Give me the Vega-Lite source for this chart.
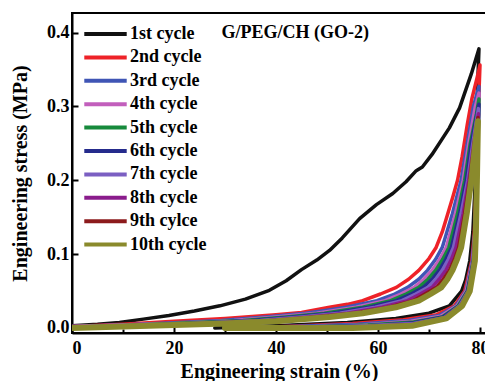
{
"$schema": "https://vega.github.io/schema/vega-lite/v6.json",
"width": 414, "height": 320,
"autosize": {"type": "none"},
"padding": {"left": 72, "top": 13, "right": 0, "bottom": 48},
"background": "white",
"config": {"view": {"stroke": "black", "strokeWidth": 2}, "font": "Liberation Serif"},
"layer": [
{
"data": {"values": [
{"c":"1st cycle","x":0,"y":0.003},{"c":"1st cycle","x":5,"y":0.005},{"c":"1st cycle","x":9.3,"y":0.0075},{"c":"1st cycle","x":14,"y":0.012},{"c":"1st cycle","x":19,"y":0.017},{"c":"1st cycle","x":24,"y":0.023},{"c":"1st cycle","x":29,"y":0.03},{"c":"1st cycle","x":34,"y":0.039},{"c":"1st cycle","x":38.7,"y":0.051},{"c":"1st cycle","x":42,"y":0.064},{"c":"1st cycle","x":45,"y":0.079},{"c":"1st cycle","x":48,"y":0.092},{"c":"1st cycle","x":50.5,"y":0.105},{"c":"1st cycle","x":53,"y":0.122},{"c":"1st cycle","x":56.4,"y":0.148},{"c":"1st cycle","x":59.7,"y":0.167},{"c":"1st cycle","x":62.9,"y":0.182},{"c":"1st cycle","x":65.5,"y":0.198},{"c":"1st cycle","x":67.5,"y":0.213},{"c":"1st cycle","x":68.7,"y":0.218},{"c":"1st cycle","x":70.6,"y":0.235},{"c":"1st cycle","x":74,"y":0.271},{"c":"1st cycle","x":76,"y":0.298},{"c":"1st cycle","x":78.3,"y":0.344},{"c":"1st cycle","x":79.8,"y":0.378},
{"c":"1st cycle","x":79.4,"y":0.3},{"c":"1st cycle","x":79.1,"y":0.2},{"c":"1st cycle","x":78.6,"y":0.13},{"c":"1st cycle","x":78,"y":0.091},{"c":"1st cycle","x":77.2,"y":0.065},{"c":"1st cycle","x":76.4,"y":0.05},{"c":"1st cycle","x":74,"y":0.03},{"c":"1st cycle","x":70,"y":0.02},{"c":"1st cycle","x":63.5,"y":0.013},{"c":"1st cycle","x":54,"y":0.0075},{"c":"1st cycle","x":40,"y":0.003},{"c":"1st cycle","x":28,"y":0.0},

{"c":"2nd cycle","x":0,"y":0.002},{"c":"2nd cycle","x":10,"y":0.005},{"c":"2nd cycle","x":20,"y":0.009},{"c":"2nd cycle","x":30,"y":0.013},{"c":"2nd cycle","x":40,"y":0.018},{"c":"2nd cycle","x":45,"y":0.021},{"c":"2nd cycle","x":50.5,"y":0.028},{"c":"2nd cycle","x":54,"y":0.032},{"c":"2nd cycle","x":57,"y":0.037},{"c":"2nd cycle","x":60.5,"y":0.046},{"c":"2nd cycle","x":63.6,"y":0.055},{"c":"2nd cycle","x":66,"y":0.066},{"c":"2nd cycle","x":68,"y":0.078},{"c":"2nd cycle","x":70,"y":0.094},{"c":"2nd cycle","x":71.4,"y":0.109},{"c":"2nd cycle","x":72.6,"y":0.13},{"c":"2nd cycle","x":73.7,"y":0.155},{"c":"2nd cycle","x":74.7,"y":0.178},{"c":"2nd cycle","x":75.6,"y":0.2},{"c":"2nd cycle","x":76.5,"y":0.232},{"c":"2nd cycle","x":77.5,"y":0.275},{"c":"2nd cycle","x":78.4,"y":0.31},{"c":"2nd cycle","x":79.4,"y":0.338},{"c":"2nd cycle","x":80,"y":0.356},
{"c":"2nd cycle","x":79.6,"y":0.28},{"c":"2nd cycle","x":79.3,"y":0.2},{"c":"2nd cycle","x":78.9,"y":0.13},{"c":"2nd cycle","x":78.4,"y":0.091},{"c":"2nd cycle","x":77,"y":0.05},{"c":"2nd cycle","x":75,"y":0.03},{"c":"2nd cycle","x":71.5,"y":0.018},{"c":"2nd cycle","x":65,"y":0.011},{"c":"2nd cycle","x":55,"y":0.006},{"c":"2nd cycle","x":42,"y":0.002},{"c":"2nd cycle","x":30,"y":0.0},

{"c":"3rd cycle","x":0,"y":0.002},{"c":"3rd cycle","x":10,"y":0.004},{"c":"3rd cycle","x":20,"y":0.007},{"c":"3rd cycle","x":29.3,"y":0.01},{"c":"3rd cycle","x":38,"y":0.015},{"c":"3rd cycle","x":45.8,"y":0.02},{"c":"3rd cycle","x":50,"y":0.024},{"c":"3rd cycle","x":53.8,"y":0.028},{"c":"3rd cycle","x":59.8,"y":0.037},{"c":"3rd cycle","x":63,"y":0.045},{"c":"3rd cycle","x":65.8,"y":0.055},{"c":"3rd cycle","x":68,"y":0.066},{"c":"3rd cycle","x":69.7,"y":0.078},{"c":"3rd cycle","x":71.3,"y":0.093},{"c":"3rd cycle","x":72.6,"y":0.109},{"c":"3rd cycle","x":74.6,"y":0.155},{"c":"3rd cycle","x":76.3,"y":0.2},{"c":"3rd cycle","x":77.5,"y":0.25},{"c":"3rd cycle","x":78.7,"y":0.3},{"c":"3rd cycle","x":79.8,"y":0.327},
{"c":"3rd cycle","x":79.6,"y":0.26},{"c":"3rd cycle","x":79.4,"y":0.2},{"c":"3rd cycle","x":79,"y":0.13},{"c":"3rd cycle","x":78.5,"y":0.091},{"c":"3rd cycle","x":77.2,"y":0.05},{"c":"3rd cycle","x":75.3,"y":0.03},{"c":"3rd cycle","x":72,"y":0.017},{"c":"3rd cycle","x":66,"y":0.01},{"c":"3rd cycle","x":56,"y":0.005},{"c":"3rd cycle","x":43,"y":0.002},{"c":"3rd cycle","x":31,"y":0.0},

{"c":"4th cycle","x":0,"y":0.002},{"c":"4th cycle","x":10,"y":0.004},{"c":"4th cycle","x":20,"y":0.006},{"c":"4th cycle","x":31.8,"y":0.01},{"c":"4th cycle","x":40,"y":0.015},{"c":"4th cycle","x":48,"y":0.02},{"c":"4th cycle","x":55.7,"y":0.028},{"c":"4th cycle","x":61.4,"y":0.037},{"c":"4th cycle","x":64.5,"y":0.046},{"c":"4th cycle","x":67.1,"y":0.055},{"c":"4th cycle","x":69,"y":0.066},{"c":"4th cycle","x":70.6,"y":0.078},{"c":"4th cycle","x":72.1,"y":0.093},{"c":"4th cycle","x":73.4,"y":0.109},{"c":"4th cycle","x":75.2,"y":0.155},{"c":"4th cycle","x":76.7,"y":0.2},{"c":"4th cycle","x":77.8,"y":0.25},{"c":"4th cycle","x":79.1,"y":0.3},{"c":"4th cycle","x":79.8,"y":0.318},
{"c":"4th cycle","x":79.6,"y":0.25},{"c":"4th cycle","x":79.4,"y":0.2},{"c":"4th cycle","x":79,"y":0.13},{"c":"4th cycle","x":78.6,"y":0.091},{"c":"4th cycle","x":77.3,"y":0.05},{"c":"4th cycle","x":75.5,"y":0.03},{"c":"4th cycle","x":72.3,"y":0.016},{"c":"4th cycle","x":66.5,"y":0.009},{"c":"4th cycle","x":57,"y":0.004},{"c":"4th cycle","x":44,"y":0.001},{"c":"4th cycle","x":32,"y":0.0},

{"c":"5th cycle","x":0,"y":0.001},{"c":"5th cycle","x":10,"y":0.003},{"c":"5th cycle","x":20,"y":0.006},{"c":"5th cycle","x":33.5,"y":0.01},{"c":"5th cycle","x":42,"y":0.015},{"c":"5th cycle","x":49.5,"y":0.02},{"c":"5th cycle","x":57,"y":0.028},{"c":"5th cycle","x":62.5,"y":0.037},{"c":"5th cycle","x":65.5,"y":0.046},{"c":"5th cycle","x":68,"y":0.055},{"c":"5th cycle","x":69.8,"y":0.066},{"c":"5th cycle","x":71.3,"y":0.078},{"c":"5th cycle","x":72.7,"y":0.093},{"c":"5th cycle","x":73.9,"y":0.109},{"c":"5th cycle","x":75.6,"y":0.155},{"c":"5th cycle","x":77,"y":0.2},{"c":"5th cycle","x":78.1,"y":0.25},{"c":"5th cycle","x":79.3,"y":0.29},{"c":"5th cycle","x":79.8,"y":0.31},
{"c":"5th cycle","x":79.6,"y":0.25},{"c":"5th cycle","x":79.4,"y":0.2},{"c":"5th cycle","x":79.1,"y":0.13},{"c":"5th cycle","x":78.7,"y":0.091},{"c":"5th cycle","x":77.5,"y":0.05},{"c":"5th cycle","x":75.7,"y":0.03},{"c":"5th cycle","x":72.6,"y":0.015},{"c":"5th cycle","x":67,"y":0.008},{"c":"5th cycle","x":58,"y":0.004},{"c":"5th cycle","x":45,"y":0.001},{"c":"5th cycle","x":33,"y":0.0},

{"c":"6th cycle","x":0,"y":0.001},{"c":"6th cycle","x":10,"y":0.003},{"c":"6th cycle","x":20,"y":0.005},{"c":"6th cycle","x":35.2,"y":0.01},{"c":"6th cycle","x":43.5,"y":0.015},{"c":"6th cycle","x":51,"y":0.02},{"c":"6th cycle","x":58.3,"y":0.028},{"c":"6th cycle","x":63.6,"y":0.037},{"c":"6th cycle","x":66.5,"y":0.046},{"c":"6th cycle","x":68.9,"y":0.055},{"c":"6th cycle","x":70.6,"y":0.066},{"c":"6th cycle","x":72,"y":0.078},{"c":"6th cycle","x":73.3,"y":0.093},{"c":"6th cycle","x":74.4,"y":0.109},{"c":"6th cycle","x":76,"y":0.155},{"c":"6th cycle","x":77.3,"y":0.2},{"c":"6th cycle","x":78.3,"y":0.25},{"c":"6th cycle","x":79.8,"y":0.303},
{"c":"6th cycle","x":79.6,"y":0.25},{"c":"6th cycle","x":79.4,"y":0.2},{"c":"6th cycle","x":79.1,"y":0.13},{"c":"6th cycle","x":78.7,"y":0.091},{"c":"6th cycle","x":77.6,"y":0.05},{"c":"6th cycle","x":75.9,"y":0.03},{"c":"6th cycle","x":72.8,"y":0.015},{"c":"6th cycle","x":67,"y":0.007},{"c":"6th cycle","x":58,"y":0.003},{"c":"6th cycle","x":45,"y":0.001},{"c":"6th cycle","x":33,"y":0.0},

{"c":"7th cycle","x":0,"y":0.001},{"c":"7th cycle","x":10,"y":0.003},{"c":"7th cycle","x":20,"y":0.005},{"c":"7th cycle","x":36.9,"y":0.01},{"c":"7th cycle","x":45,"y":0.015},{"c":"7th cycle","x":52.5,"y":0.02},{"c":"7th cycle","x":59.5,"y":0.028},{"c":"7th cycle","x":64.7,"y":0.037},{"c":"7th cycle","x":67.4,"y":0.046},{"c":"7th cycle","x":69.8,"y":0.055},{"c":"7th cycle","x":71.3,"y":0.066},{"c":"7th cycle","x":72.6,"y":0.078},{"c":"7th cycle","x":73.8,"y":0.093},{"c":"7th cycle","x":74.8,"y":0.109},{"c":"7th cycle","x":76.3,"y":0.155},{"c":"7th cycle","x":77.6,"y":0.2},{"c":"7th cycle","x":78.6,"y":0.25},{"c":"7th cycle","x":79.7,"y":0.297},
{"c":"7th cycle","x":79.5,"y":0.25},{"c":"7th cycle","x":79.3,"y":0.2},{"c":"7th cycle","x":79.1,"y":0.13},{"c":"7th cycle","x":78.8,"y":0.091},{"c":"7th cycle","x":77.7,"y":0.05},{"c":"7th cycle","x":76,"y":0.03},{"c":"7th cycle","x":73,"y":0.014},{"c":"7th cycle","x":67,"y":0.006},{"c":"7th cycle","x":58,"y":0.003},{"c":"7th cycle","x":45,"y":0.0005},{"c":"7th cycle","x":34,"y":0.0},

{"c":"8th cycle","x":0,"y":0.001},{"c":"8th cycle","x":10,"y":0.002},{"c":"8th cycle","x":20,"y":0.004},{"c":"8th cycle","x":38.6,"y":0.01},{"c":"8th cycle","x":46.5,"y":0.015},{"c":"8th cycle","x":54,"y":0.02},{"c":"8th cycle","x":60.8,"y":0.028},{"c":"8th cycle","x":65.8,"y":0.037},{"c":"8th cycle","x":68.3,"y":0.046},{"c":"8th cycle","x":70.6,"y":0.055},{"c":"8th cycle","x":72,"y":0.066},{"c":"8th cycle","x":73.3,"y":0.078},{"c":"8th cycle","x":74.4,"y":0.093},{"c":"8th cycle","x":75.3,"y":0.109},{"c":"8th cycle","x":76.7,"y":0.155},{"c":"8th cycle","x":77.8,"y":0.2},{"c":"8th cycle","x":78.8,"y":0.25},{"c":"8th cycle","x":79.7,"y":0.29},
{"c":"8th cycle","x":79.5,"y":0.24},{"c":"8th cycle","x":79.3,"y":0.2},{"c":"8th cycle","x":79.1,"y":0.13},{"c":"8th cycle","x":78.8,"y":0.091},{"c":"8th cycle","x":77.8,"y":0.05},{"c":"8th cycle","x":76.2,"y":0.03},{"c":"8th cycle","x":73.1,"y":0.014},{"c":"8th cycle","x":67,"y":0.005},{"c":"8th cycle","x":58,"y":0.002},{"c":"8th cycle","x":45,"y":0.0},{"c":"8th cycle","x":35,"y":0.0},

{"c":"9th cylce","x":0,"y":0.0005},{"c":"9th cylce","x":10,"y":0.002},{"c":"9th cylce","x":20,"y":0.004},{"c":"9th cylce","x":40.3,"y":0.01},{"c":"9th cylce","x":48,"y":0.015},{"c":"9th cylce","x":55.5,"y":0.02},{"c":"9th cylce","x":62.2,"y":0.028},{"c":"9th cylce","x":66.9,"y":0.037},{"c":"9th cylce","x":69.2,"y":0.046},{"c":"9th cylce","x":71.5,"y":0.055},{"c":"9th cylce","x":72.8,"y":0.066},{"c":"9th cylce","x":74,"y":0.078},{"c":"9th cylce","x":75,"y":0.093},{"c":"9th cylce","x":75.8,"y":0.109},{"c":"9th cylce","x":77,"y":0.155},{"c":"9th cylce","x":78,"y":0.2},{"c":"9th cylce","x":78.9,"y":0.25},{"c":"9th cylce","x":79.6,"y":0.285},
{"c":"9th cylce","x":79.5,"y":0.24},{"c":"9th cylce","x":79.4,"y":0.2},{"c":"9th cylce","x":79.1,"y":0.13},{"c":"9th cylce","x":78.9,"y":0.091},{"c":"9th cylce","x":77.9,"y":0.05},{"c":"9th cylce","x":76.4,"y":0.03},{"c":"9th cylce","x":73.3,"y":0.013},{"c":"9th cylce","x":67,"y":0.004},{"c":"9th cylce","x":56,"y":0.001},{"c":"9th cylce","x":45,"y":0.0},{"c":"9th cylce","x":35,"y":0.0},

{"c":"10th cycle","x":0,"y":0.0},{"c":"10th cycle","x":10,"y":0.002},{"c":"10th cycle","x":20,"y":0.004},{"c":"10th cycle","x":30,"y":0.006},{"c":"10th cycle","x":40,"y":0.009},{"c":"10th cycle","x":50.5,"y":0.015},{"c":"10th cycle","x":57,"y":0.02},{"c":"10th cycle","x":63.5,"y":0.028},{"c":"10th cycle","x":68,"y":0.037},{"c":"10th cycle","x":70.3,"y":0.046},{"c":"10th cycle","x":72.4,"y":0.055},{"c":"10th cycle","x":73.6,"y":0.066},{"c":"10th cycle","x":74.6,"y":0.078},{"c":"10th cycle","x":75.5,"y":0.093},{"c":"10th cycle","x":76.3,"y":0.109},{"c":"10th cycle","x":77.4,"y":0.155},{"c":"10th cycle","x":78.3,"y":0.2},{"c":"10th cycle","x":79.1,"y":0.25},{"c":"10th cycle","x":79.6,"y":0.28},
{"c":"10th cycle","x":79.5,"y":0.24},{"c":"10th cycle","x":79.4,"y":0.2},{"c":"10th cycle","x":79.2,"y":0.13},{"c":"10th cycle","x":79,"y":0.091},{"c":"10th cycle","x":78,"y":0.05},{"c":"10th cycle","x":76.5,"y":0.03},{"c":"10th cycle","x":73.4,"y":0.013},{"c":"10th cycle","x":66.7,"y":0.003},{"c":"10th cycle","x":55,"y":0.0},{"c":"10th cycle","x":40,"y":0.0},{"c":"10th cycle","x":30,"y":0.0}
]},
"mark": {"type": "line", "strokeJoin": "round", "strokeCap": "round", "clip": true},
"encoding": {
"x": {"field": "x", "type": "quantitative", "scale": {"domain": [0, 81.18], "nice": false, "zero": false},
 "axis": {"values": [0,10,20,30,40,50,60,70,80], "labelExpr": "datum.value % 20 === 0 ? datum.label : ''",
  "tickSize": {"condition": {"test": "datum.value % 20 !== 0", "value": -4}, "value": -6},
  "tickColor": "black", "tickWidth": 2, "domainColor": "black", "domainWidth": 2, "grid": false,
  "labelFont": "Liberation Serif", "labelFontWeight": "bold", "labelFontSize": 18, "labelColor": "black", "labelPadding": 12,
  "title": "Engineering strain (%)", "titleFont": "Liberation Serif", "titleFontSize": 20, "titleFontWeight": "bold", "titleColor": "black", "titlePadding": 4}},
"y": {"field": "y", "type": "quantitative", "scale": {"domain": [-0.0068, 0.4265], "nice": false, "zero": false},
 "axis": {"values": [0,0.05,0.1,0.15,0.2,0.25,0.3,0.35,0.4], "labelExpr": "abs(datum.value*10 - round(datum.value*10)) > 0.01 ? '' : format(datum.value, '.1f')",
  "tickSize": {"condition": {"test": "abs(datum.value*10 - round(datum.value*10)) > 0.01", "value": -4}, "value": -6},
  "tickColor": "black", "tickWidth": 2, "domainColor": "black", "domainWidth": 2, "grid": false,
  "labelFont": "Liberation Serif", "labelFontWeight": "bold", "labelFontSize": 18, "labelColor": "black", "labelPadding": 9,
  "title": "Engineering stress (MPa)", "titleFont": "Liberation Serif", "titleFontSize": 20, "titleFontWeight": "bold", "titleColor": "black", "titlePadding": 16}},
"color": {"field": "c", "type": "nominal",
 "scale": {"domain": ["1st cycle","2nd cycle","3rd cycle","4th cycle","5th cycle","6th cycle","7th cycle","8th cycle","9th cylce","10th cycle"],
  "range": ["#111111","#ee2228","#3f55b5","#c25fbc","#178a3c","#252b8c","#7b5fc2","#8a1c8c","#8c1a1c","#8a8a2c"]},
 "legend": {"orient": "none", "legendX": 10, "legendY": 12, "title": null, "symbolType": "stroke", "symbolSize": 1800, "symbolStrokeWidth": 4,
  "labelFont": "Liberation Serif", "labelFontWeight": "bold", "labelFontSize": 18, "labelColor": "black", "clipHeight": 18, "rowPadding": 5.4, "labelOffset": 1, "padding": 0}},
"strokeWidth": {"condition": {"test": "datum.c === '10th cycle'", "value": 6}, "value": 3.5},
"order": {"value": null}
}
},
{
"data": {"values": [{"label": "G/PEG/CH (GO-2)"}]},
"mark": {"type": "text", "align": "left", "baseline": "middle", "font": "Liberation Serif", "fontWeight": "bold", "fontSize": 18, "color": "black"},
"encoding": {"x": {"datum": 29.3}, "y": {"datum": 0.399}, "text": {"field": "label"}}
}
]
}
